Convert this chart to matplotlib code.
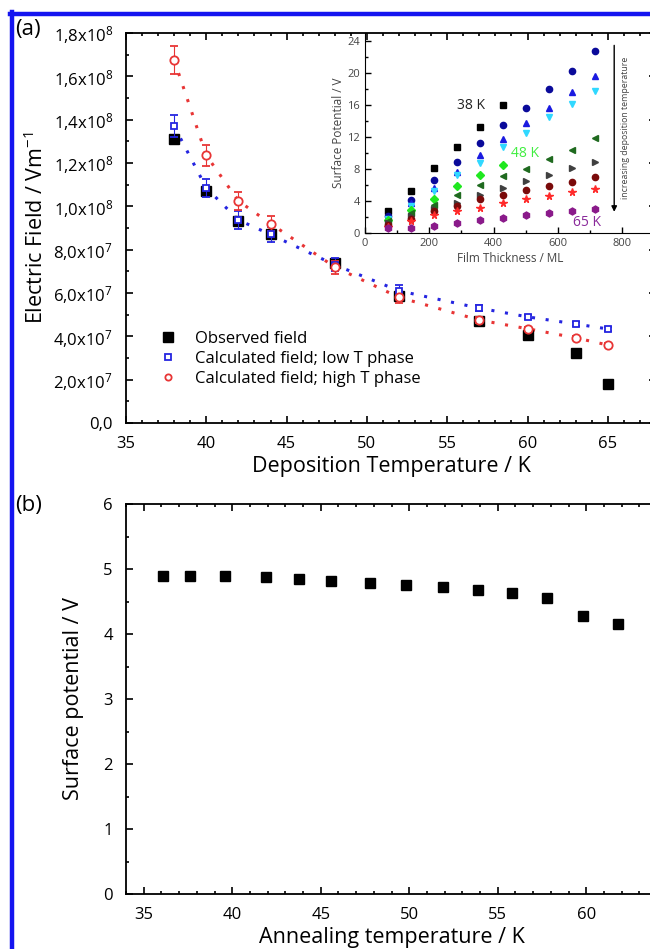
import numpy as np
import matplotlib
matplotlib.use('Agg')
import matplotlib.pyplot as plt
from matplotlib.lines import Line2D
from matplotlib.ticker import MultipleLocator, FixedLocator, FixedFormatter

plt.rcParams['font.family'] = ['Open Sans', 'DejaVu Sans']
plt.rcParams['mathtext.fontset'] = 'custom'
plt.rcParams['mathtext.rm'] = 'Open Sans'
plt.rcParams['mathtext.it'] = 'Open Sans'

# (a) campo eléctrico frente a temperatura de deposición
temp_dep = [38, 40, 42, 44, 48, 52, 57, 60, 63, 65]
campo_obs = [1.31e8, 1.07e8, 0.93e8, 0.87e8, 7.4e7, 5.86e7, 4.7e7, 4.08e7, 3.23e7, 1.8e7]
campo_bajo = [1.37e8, 1.085e8, 0.937e8, 0.87e8, 7.3e7, 6.1e7, 5.3e7, 4.9e7, 4.57e7, 4.34e7]
err_bajo = [0.05e8, 0.04e8, 0.04e8, 0.035e8, 0.3e7, 0.25e7, 0.15e7, 0.1e7, 0.1e7, 0.1e7]
campo_alto = [1.675e8, 1.235e8, 1.025e8, 0.92e8, 7.2e7, 5.8e7, 4.75e7, 4.35e7, 3.93e7, 3.6e7]
err_alto = [0.065e8, 0.05e8, 0.04e8, 0.035e8, 0.3e7, 0.25e7, 0.15e7, 0.1e7, 0.1e7, 0.1e7]
yticks_a = [0, 2e7, 4e7, 6e7, 8e7, 1.0e8, 1.2e8, 1.4e8, 1.6e8, 1.8e8]
ylabels_a = ['0,0', '2,0x10$^7$', '4,0x10$^7$', '6,0x10$^7$', '8,0x10$^7$',
             '1,0x10$^8$', '1,2x10$^8$', '1,4x10$^8$', '1,6x10$^8$', '1,8x10$^8$']

# Inset: potencial superficial frente a espesor
espesor = [72, 143, 215, 286, 358, 429, 501, 572, 644, 715]
pot_38 = [2.7, 5.3, 8.1, 10.7, 13.3, 16.0]
pot_c1 = [2.1, 4.1, 6.6, 8.9, 11.2, 13.5, 15.6, 18.0, 20.2, 22.7]
pot_c2 = [1.9, 3.7, 5.6, 7.6, 9.7, 11.7, 13.7, 15.6, 17.6, 19.6]
pot_c3 = [1.7, 3.4, 5.2, 7.2, 8.8, 10.7, 12.5, 14.5, 16.1, 17.8]
pot_48 = [1.6, 2.9, 4.3, 5.9, 7.2, 8.5]
pot_c5 = [1.5, 2.5, 3.5, 4.8, 6.0, 7.1, 8.0, 9.3, 10.4, 11.9]
pot_c6 = [1.25, 2.1, 3.0, 3.8, 4.8, 5.6, 6.5, 7.2, 8.1, 8.9]
pot_c7 = [1.0, 1.7, 2.7, 3.4, 4.2, 4.8, 5.4, 5.9, 6.4, 7.0]
pot_c8 = [0.8, 1.5, 2.2, 2.7, 3.1, 3.75, 4.2, 4.6, 5.1, 5.5]
pot_65 = [0.6, 0.6, 0.9, 1.25, 1.6, 1.9, 2.2, 2.5, 2.8, 3.0]

# (b) potencial superficial frente a temperatura de recocido
temp_rec = [36.1, 37.6, 39.6, 41.9, 43.8, 45.6, 47.8, 49.8, 51.9, 53.9, 55.8, 57.8, 59.8, 61.8]
pot_rec = [4.9, 4.9, 4.89, 4.87, 4.85, 4.82, 4.78, 4.75, 4.72, 4.68, 4.63, 4.56, 4.27, 4.16]

azul = '#2525e0'
rojo = '#e83535'

fig = plt.figure(figsize=(6.5, 9.49), dpi=100)

def estilo(ax, fs):
    ax.tick_params(which='both', direction='in', top=True, right=True, labelsize=fs,
                   width=1.2, pad=9.5)
    ax.tick_params(which='major', length=5)
    ax.tick_params(which='minor', length=2.5)
    for s in ax.spines.values():
        s.set_linewidth(1.3)

# ---------------- (a)
ax1 = fig.add_axes([126/650, 1-423/949, 530/650, 390/949])
ax1.plot(temp_dep, campo_bajo, ls=(0, (1, 3.5)), lw=2.2, color=azul, zorder=2)
ax1.plot(temp_dep, campo_alto, ls=(0, (1, 3.5)), lw=2.2, color=rojo, zorder=2)
ax1.plot(temp_dep, campo_obs, 's', color='k', ms=7.5, zorder=3)
ax1.errorbar(temp_dep, campo_bajo, yerr=err_bajo, fmt='s', ms=5, mfc='white', mec=azul,
             mew=1.3, ecolor=azul, elinewidth=0.8, capsize=3, zorder=4)
ax1.errorbar(temp_dep, campo_alto, yerr=err_alto, fmt='o', ms=6, mfc='white', mec=rojo,
             mew=1.3, ecolor=rojo, elinewidth=0.8, capsize=3, zorder=4)
ax1.set_xlim(35, 68)
ax1.set_ylim(0, 1.8e8)
ax1.xaxis.set_major_locator(FixedLocator([35, 40, 45, 50, 55, 60, 65]))
ax1.xaxis.set_minor_locator(MultipleLocator(1))
ax1.yaxis.set_major_locator(FixedLocator(yticks_a))
ax1.yaxis.set_major_formatter(FixedFormatter(ylabels_a))
ax1.yaxis.set_minor_locator(MultipleLocator(1e7))
estilo(ax1, 12)
ax1.set_xlabel('Deposition Temperature / K', fontsize=15.5, labelpad=3)
ax1.set_ylabel('Electric Field / Vm$^{-1}$', fontsize=15.5, labelpad=4)

handles = [Line2D([], [], ls='', marker='s', color='k', ms=7.5),
           Line2D([], [], ls='', marker='s', mfc='white', mec=azul, mew=1.3, ms=4.5),
           Line2D([], [], ls='', marker='o', mfc='white', mec=rojo, mew=1.3, ms=4.5)]
ax1.legend(handles, ['Observed field', 'Calculated field; low T phase', 'Calculated field; high T phase'],
           loc='upper left', bbox_to_anchor=(0.035, 0.275), frameon=False, fontsize=12,
           handlelength=1.0, handletextpad=1.1, labelspacing=0.25)

# ---------------- inset
axi = fig.add_axes([365/650, 1-233/949, 291/650, 200/949])
axi.set_facecolor('none')
gris = '#444444'
ms = 4.5
axi.plot(espesor[:6], pot_38, 's', color='k', ms=ms)
axi.plot(espesor, pot_c1, 'o', color='#0a0a9a', ms=ms)
axi.plot(espesor, pot_c2, '^', color='#1a1ae0', ms=ms)
axi.plot(espesor, pot_c3, 'v', color='#30d8ff', ms=ms)
axi.plot(espesor[:6], pot_48, 'D', color='#20e820', ms=ms - 0.5)
axi.plot(espesor, pot_c5, '<', color='#1f6a1f', ms=ms)
axi.plot(espesor, pot_c6, '>', color='#404040', ms=ms)
axi.plot(espesor, pot_c7, 'o', color='#7a0a0a', ms=ms)
axi.plot(espesor, pot_c8, '*', color='#ff2a2a', ms=ms + 1)
axi.plot(espesor, pot_65, 'h', color='#8a1a8a', ms=ms + 0.5)
axi.set_xlim(0, 905)
axi.set_ylim(0, 25)
axi.xaxis.set_major_locator(MultipleLocator(200))
axi.xaxis.set_minor_locator(MultipleLocator(100))
axi.yaxis.set_major_locator(MultipleLocator(4))
axi.yaxis.set_minor_locator(MultipleLocator(2))
axi.tick_params(which='both', direction='in', top=False, right=False, labelsize=8,
                labelcolor=gris, width=1.0)
axi.tick_params(which='major', length=4)
axi.tick_params(which='minor', length=2)
axi.spines['top'].set_visible(False)
axi.spines['right'].set_visible(False)
axi.set_xlabel('Film Thickness / ML', fontsize=8.5, color=gris, labelpad=2)
axi.set_ylabel('Surface Potential / V', fontsize=8.5, color=gris, labelpad=2)
axi.text(330, 15.9, '38 K', fontsize=10, color='#222222', ha='center', va='center')
axi.text(498, 9.9, '48 K', fontsize=10, color='#40ee40', ha='center', va='center')
axi.text(690, 1.3, '65 K', fontsize=10, color='#8a2a9a', ha='center', va='center')
axi.annotate('', xy=(775, 2.3), xytext=(775, 23.8),
             arrowprops=dict(arrowstyle='-|>', color='k', lw=1.0, mutation_scale=8))
axi.text(810, 13.2, 'increasing deposition temperature', fontsize=6.3, color=gris,
         rotation=90, ha='center', va='center')

# ---------------- (b)
ax2 = fig.add_axes([126/650, 1-894/949, 531/650, 390/949])
ax2.plot(temp_rec, pot_rec, 's', color='k', ms=7)
ax2.set_xlim(34, 64)
ax2.set_ylim(0, 6)
ax2.xaxis.set_major_locator(FixedLocator([35, 40, 45, 50, 55, 60]))
ax2.xaxis.set_minor_locator(MultipleLocator(1))
ax2.yaxis.set_major_locator(MultipleLocator(1))
ax2.yaxis.set_minor_locator(MultipleLocator(0.5))
estilo(ax2, 12)
ax2.set_xlabel('Annealing temperature / K', fontsize=15.5, labelpad=3)
ax2.set_ylabel('Surface potential / V', fontsize=15.5, labelpad=14)

fig.text(15/650, 1-30/949, '(a)', fontsize=16, ha='left', va='center')
fig.text(15/650, 1-506/949, '(b)', fontsize=16, ha='left', va='center')

# Marco azul
fig.add_artist(Line2D([10/650, 1], [1-14/949, 1-14/949], color='#1414f0', lw=3.2))
fig.add_artist(Line2D([12/650, 12/650], [0, 1-12/949], color='#1414f0', lw=3.2))

fig.savefig('out.png', dpi=100)
